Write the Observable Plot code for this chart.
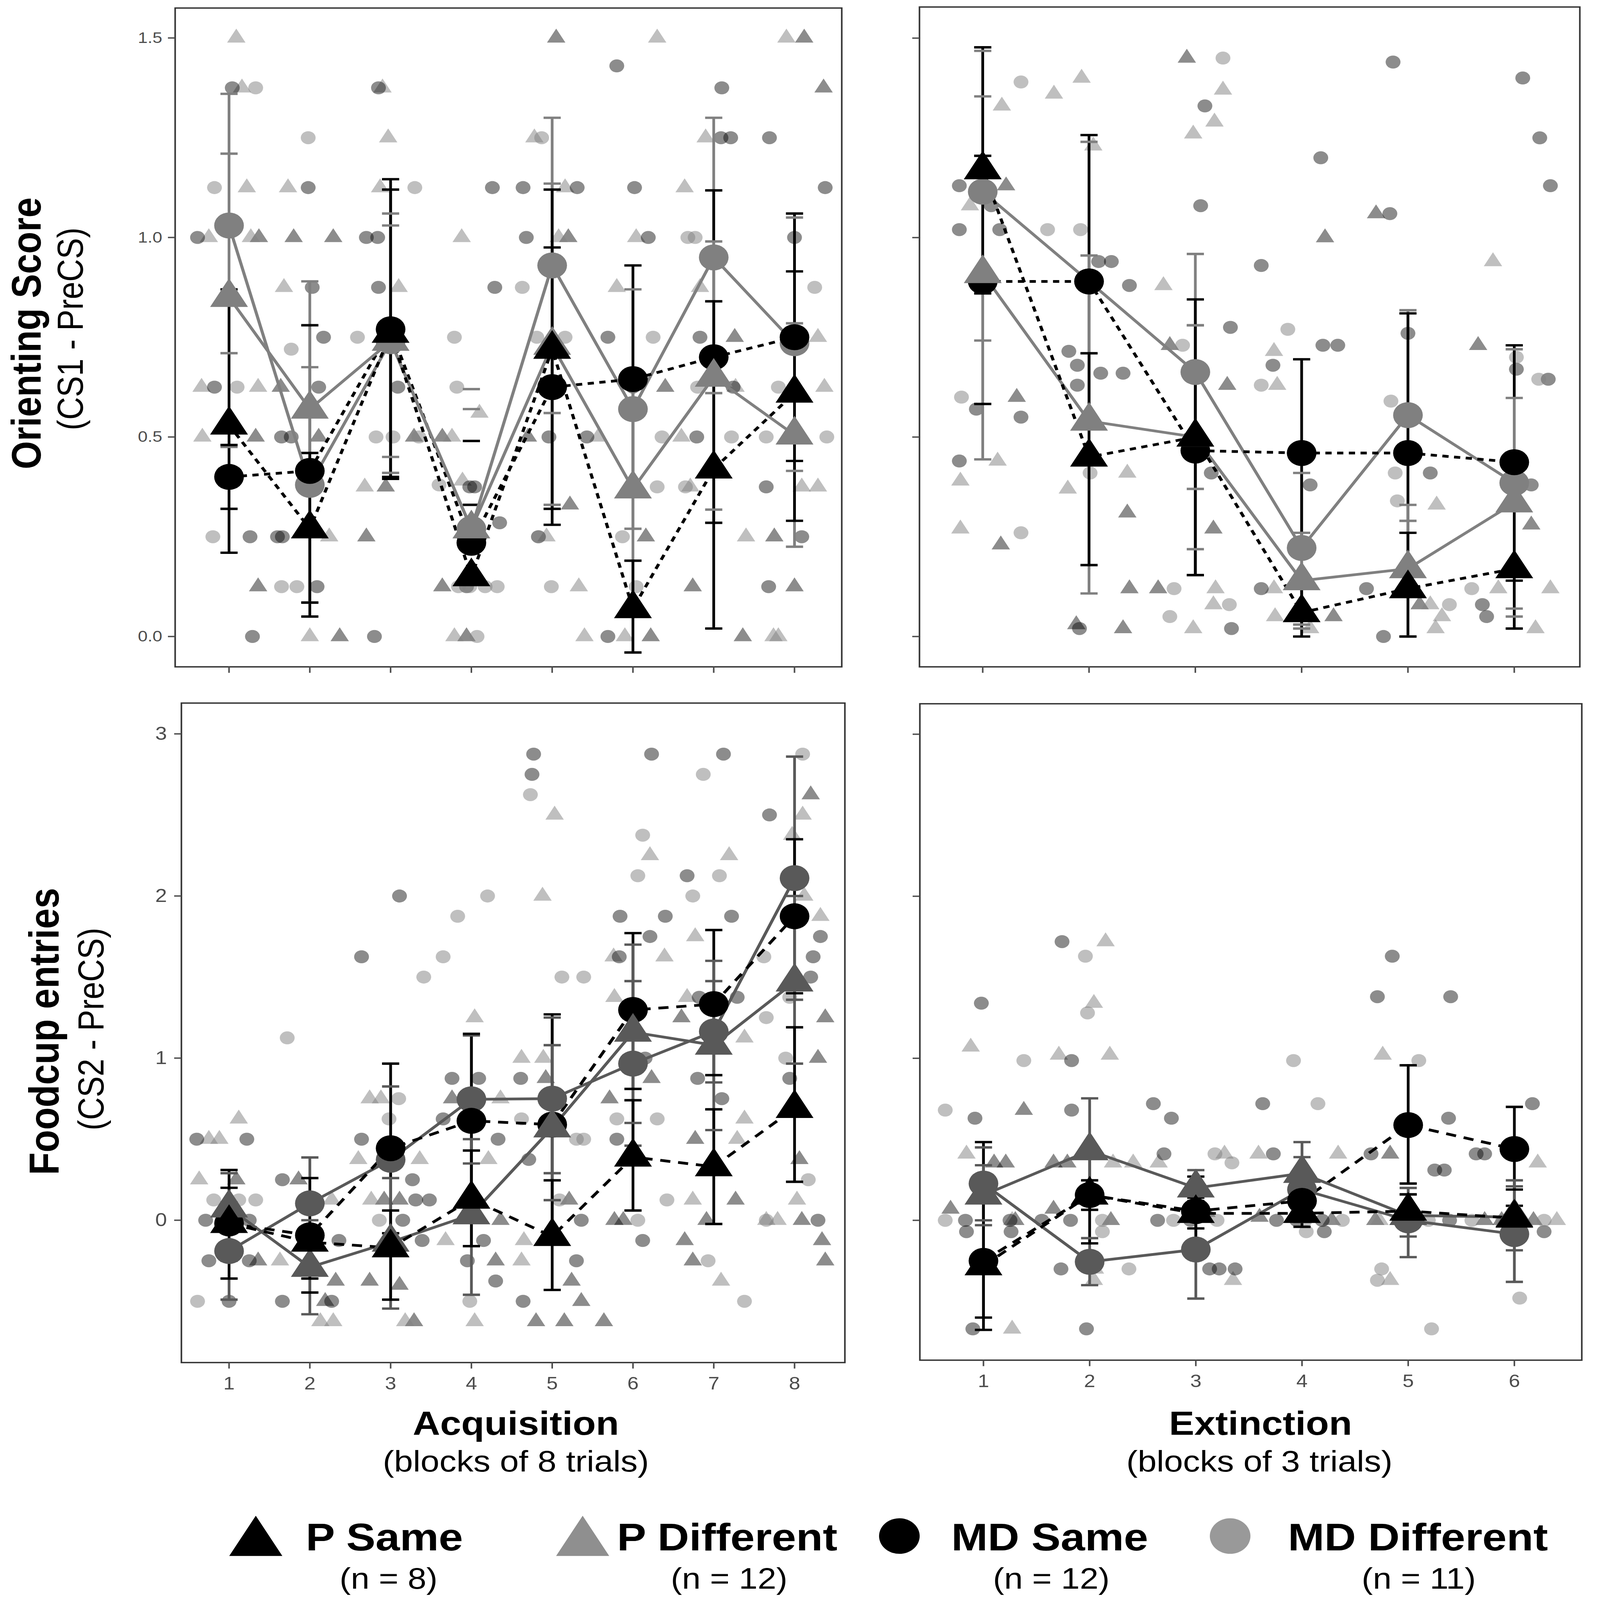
<!DOCTYPE html>
<html><head><meta charset="utf-8">
<script src="https://cdn.jsdelivr.net/npm/d3@7"></script>
<script src="https://cdn.jsdelivr.net/npm/@observablehq/plot@0.6"></script>
<style>
html,body{margin:0;padding:0;background:#fff;overflow:hidden;}
#fig{position:relative;width:4092px;height:4680px;background:#fff;overflow:hidden;font-family:"Liberation Sans",Arial,sans-serif;transform-origin:0 0;}
#fig > svg{position:absolute;overflow:visible;}
</style></head><body><div id="fig"></div>
<script>
// ---------- categories / labels ----------
const groups = ["P Same","P Different","MD Same","MD Different"];
const groupN = ["(n = 8)","(n = 12)","(n = 12)","(n = 11)"];
const acqBlocks = [1,2,3,4,5,6,7,8];
const extBlocks = [1,2,3,4,5,6];
const orientTicks = [0,0.5,1,1.5];
const foodTicks = [0,1,2,3];

// ---------- Orienting score, Acquisition (means, lower, upper) ----------
const oaMeanPSame = [0.53,0.27,0.76,0.15,0.72,0.07,0.42,0.61];
const oaLoPSame   = [0.21,0.085,0.40,0.15,0.32,-0.04,0.02,0.29];
const oaHiPSame   = [0.87,0.46,1.12,0.33,1.12,0.19,0.84,0.915];
const oaMeanPDiff = [0.85,0.57,0.74,0.27,0.73,0.37,0.65,0.505];
const oaLoPDiff   = [0.475,0.25,0.41,0.27,0.33,0.08,0.318,0.225];
const oaHiPDiff   = [1.21,0.89,1.06,0.57,1.135,0.66,0.99,0.785];
const oaMeanMDSame = [0.40,0.415,0.77,0.235,0.625,0.645,0.70,0.75];
const oaLoMDSame   = [0.32,0.05,0.395,0.235,0.28,0.36,0.285,0.44];
const oaHiMDSame   = [0.48,0.78,1.146,0.49,0.975,0.93,1.118,1.06];
const oaMeanMDDiff = [1.03,0.38,0.74,0.27,0.93,0.57,0.95,0.735];
const oaLoMDDiff   = [0.71,0.085,0.45,0.27,0.56,0.27,0.61,0.415];
const oaHiMDDiff   = [1.36,0.675,1.03,0.62,1.30,0.87,1.30,1.05];
const oaNoStem = [4];

// ---------- Orienting score, Extinction ----------
const oeMeanPSame = [1.17,0.45,0.50,0.06,0.12,0.17];
const oeLoPSame   = [0.86,0.179,0.154,0.0,0.0,0.02];
const oeHiPSame   = [1.477,0.71,0.845,0.12,0.26,0.33];
const oeMeanPDiff = [0.91,0.54,0.50,0.14,0.17,0.335];
const oeLoPDiff   = [0.444,0.108,0.219,0.02,0.0,0.07];
const oeHiPDiff   = [1.354,0.955,0.78,0.26,0.33,0.598];
const oeMeanMDSame = [0.89,0.89,0.466,0.46,0.46,0.437];
const oeLoMDSame   = [0.583,0.53,0.154,0.225,0.11,0.14];
const oeHiMDSame   = [1.205,1.257,0.78,0.695,0.81,0.73];
const oeMeanMDDiff = [1.115,0.89,0.663,0.222,0.555,0.385];
const oeLoMDDiff   = [0.742,0.54,0.37,0.03,0.29,0.05];
const oeHiMDDiff   = [1.468,1.24,0.959,0.41,0.818,0.72];

// ---------- Foodcup entries, Acquisition ----------
const faMeanPSame = [-0.02,-0.135,-0.17,0.13,-0.10,0.39,0.33,0.69];
const faLoPSame   = [-0.36,-0.36,-0.49,-0.16,-0.43,0.06,-0.023,0.237];
const faHiPSame   = [0.31,0.09,0.06,0.43,0.246,0.74,0.684,1.19];
const faMeanPDiff = [0.076,-0.29,-0.135,0.034,0.57,1.16,1.08,1.47];
const faLoPDiff   = [-0.14,-0.58,-0.545,-0.46,0.124,0.6,0.556,0.966];
const faHiPDiff   = [0.29,0.0,0.26,0.5,1.08,1.70,1.6,2.0];
const faMeanMDSame = [-0.02,-0.093,0.444,0.613,0.59,1.297,1.333,1.875];
const faLoMDSame   = [-0.25,-0.446,-0.08,0.08,-0.09,0.81,0.895,1.4];
const faHiMDSame   = [0.2,0.26,0.966,1.15,1.27,1.771,1.79,2.35];
const faMeanMDDiff = [-0.19,0.104,0.373,0.746,0.75,0.966,1.164,2.11];
const faLoMDDiff   = [-0.49,-0.18,-0.08,0.35,0.29,0.46,0.85,1.36];
const faHiMDDiff   = [0.11,0.387,0.825,1.14,1.25,1.475,1.475,2.86];

// ---------- Foodcup entries, Extinction ----------
const feMeanPSame = [-0.28,0.156,0.043,0.043,0.057,0.014];
const feLoPSame   = [-0.676,0.065,-0.05,-0.04,-0.05,-0.06];
const feHiPSame   = [0.12,0.247,0.14,0.13,0.16,0.09];
const feMeanPDiff = [0.156,0.43,0.20,0.29,0.03,0.02];
const feLoPDiff   = [-0.03,0.11,0.09,0.1,-0.1,-0.185];
const feHiPDiff   = [0.34,0.753,0.31,0.483,0.16,0.247];
const feMeanMDSame = [-0.25,0.156,0.057,0.12,0.588,0.44];
const feLoMDSame   = [-0.60,-0.142,-0.16,0.0,0.227,0.19];
const feHiMDSame   = [0.483,0.45,0.27,0.24,0.957,0.70];
const feMeanMDDiff = [0.227,-0.256,-0.18,0.19,0.0,-0.085];
const feLoMDDiff   = [0.0,-0.40,-0.483,-0.01,-0.227,-0.38];
const feHiMDDiff   = [0.45,-0.11,0.12,0.39,0.2,0.21];

// ---------- individual animals [jittered block, value] ----------
const oaDarkTri = [[5.05,1.5],[8.12,1.5],[8.36,1.375],[1.37,1.0],[1.8,1.0],[2.29,1.0],[5.2,1.0],[7.26,0.75],[1.64,0.625],[6.4,0.625],[1.33,0.5],[2.11,0.5],[3.29,0.5],[3.64,0.5],[4.7,0.5],[2.94,0.375],[5.22,0.33],[2.7,0.25],[6.16,0.25],[7.75,0.25],[1.36,0.125],[3.64,0.125],[6.74,0.125],[8.0,0.125],[2.37,0],[3.94,0],[6.22,0],[7.36,0]];
const oaLightTri = [[1.09,1.5],[6.3,1.5],[7.9,1.5],[1.16,1.375],[2.9,1.375],[2.97,1.25],[4.78,1.25],[6.9,1.25],[1.22,1.125],[1.73,1.125],[2.87,1.125],[5.16,1.125],[6.64,1.125],[0.75,1.0],[1.27,1.0],[3.88,1.0],[5.08,1.0],[6.04,1.0],[1.68,0.875],[3.1,0.875],[5.8,0.875],[6.83,0.875],[8.29,0.75],[0.66,0.625],[1.36,0.625],[7.27,0.625],[8.37,0.625],[4.1,0.56],[0.67,0.5],[3.76,0.5],[5.57,0.5],[6.6,0.5],[2.68,0.375],[3.89,0.39],[6.71,0.375],[8.09,0.375],[8.29,0.375],[2.24,0.25],[4.93,0.25],[7.4,0.25],[5.33,0.125],[2.0,0],[3.79,0],[5.4,0],[5.9,0],[7.74,0],[7.8,0]];
const oaDarkCirc = [[5.8,1.43],[1.04,1.375],[2.85,1.375],[7.1,1.375],[7.09,1.25],[7.21,1.25],[7.69,1.25],[1.98,1.125],[4.26,1.125],[4.64,1.125],[5.31,1.125],[6.02,1.125],[8.38,1.125],[0.61,1.0],[2.7,1.0],[2.84,1.0],[4.68,1.0],[6.19,1.0],[8.0,1.0],[2.03,0.875],[2.85,0.875],[4.29,0.875],[2.17,0.75],[5.69,0.75],[6.83,0.75],[0.82,0.625],[2.11,0.625],[3.09,0.625],[6.0,0.625],[7.24,0.625],[1.65,0.5],[1.77,0.5],[4.96,0.5],[5.43,0.5],[6.79,0.5],[3.98,0.375],[4.04,0.375],[7.65,0.375],[4.35,0.285],[1.26,0.25],[1.6,0.25],[1.66,0.25],[4.83,0.25],[8.09,0.25],[2.09,0.125],[3.94,0.125],[7.68,0.125],[1.29,0],[2.8,0],[5.69,0]];
const oaLightCirc = [[1.33,1.375],[1.98,1.25],[4.87,1.25],[0.82,1.125],[3.3,1.125],[6.68,1.0],[6.77,1.0],[4.63,0.875],[8.25,0.875],[2.59,0.75],[3.79,0.75],[4.81,0.75],[5.16,0.75],[6.25,0.75],[1.77,0.72],[1.1,0.625],[3.82,0.625],[6.8,0.625],[7.8,0.625],[2.82,0.5],[3.03,0.5],[3.35,0.5],[6.36,0.5],[7.22,0.5],[7.65,0.5],[8.4,0.5],[3.6,0.38],[6.3,0.375],[6.65,0.375],[0.8,0.25],[4.83,0.25],[5.87,0.25],[1.65,0.125],[1.84,0.125],[3.84,0.125],[3.98,0.125],[4.17,0.125],[4.32,0.125],[4.99,0.125],[6.04,0.125],[4.07,0]];

const oeDarkTri = [[2.92,1.45],[1.22,1.13],[4.7,1.06],[4.22,1.0],[5.66,0.73],[2.76,0.73],[3.3,0.63],[1.32,0.6],[2.36,0.31],[6.16,0.28],[3.17,0.27],[1.17,0.23],[2.38,0.12],[2.65,0.12],[5.11,0.08],[4.3,0.05],[1.88,0.03],[2.32,0.02]];
const oeLightTri = [[1.93,1.4],[3.26,1.37],[1.67,1.36],[1.18,1.33],[3.18,1.29],[2.98,1.26],[2.04,1.23],[0.88,1.08],[5.8,0.94],[2.7,0.88],[3.74,0.715],[3.77,0.63],[1.14,0.44],[2.36,0.41],[0.79,0.39],[1.8,0.37],[5.27,0.33],[0.79,0.27],[3.19,0.12],[3.74,0.12],[5.85,0.12],[6.34,0.12],[3.17,0.08],[5.21,0.08],[5.32,0.05],[3.75,0.05],[2.98,0.02],[4.08,0.02],[6.2,0.02],[5.26,0.02]];
const oeDarkCirc = [[4.86,1.44],[6.08,1.4],[3.09,1.33],[6.24,1.25],[4.18,1.2],[6.34,1.13],[0.78,1.13],[3.05,1.08],[1.08,1.08],[4.83,1.06],[1.16,1.02],[0.78,1.02],[2.21,0.94],[2.09,0.94],[3.62,0.93],[2.38,0.88],[3.33,0.775],[5.0,0.76],[4.2,0.73],[4.34,0.73],[1.81,0.715],[3.73,0.68],[1.89,0.68],[6.02,0.67],[2.11,0.66],[2.32,0.66],[6.32,0.645],[1.89,0.63],[0.94,0.57],[1.36,0.55],[0.78,0.44],[5.21,0.41],[3.15,0.41],[4.08,0.38],[6.16,0.38],[3.62,0.12],[4.61,0.12],[5.7,0.08],[5.74,0.05],[1.91,0.02],[3.34,0.02],[4.77,0.0]];
const oeLightCirc = [[3.26,1.45],[1.36,1.39],[1.61,1.02],[1.92,1.02],[3.87,0.77],[2.88,0.73],[6.02,0.7],[3.62,0.63],[6.23,0.645],[0.8,0.6],[4.84,0.59],[4.88,0.41],[2.01,0.41],[6.02,0.38],[4.9,0.34],[1.36,0.26],[2.8,0.12],[5.6,0.12],[3.32,0.08],[5.39,0.08],[2.76,0.05]];

const faDarkTri = [[8.2,2.625],[6.6,1.25],[8.38,1.25],[8.29,1.0],[4.92,0.875],[6.23,0.875],[3.76,0.75],[5.71,0.75],[6.77,0.5],[8.06,0.375],[1.09,0.25],[1.86,0.25],[2.92,0.125],[3.11,0.125],[5.21,0.125],[7.27,0.125],[4.36,0],[5.77,0],[5.88,0],[6.91,0],[8.09,0],[6.64,-0.125],[8.34,-0.125],[1.36,-0.25],[4.3,-0.25],[6.74,-0.25],[8.38,-0.25],[2.32,-0.375],[2.74,-0.375],[5.24,-0.375],[3.11,-0.4],[5.36,-0.5],[2.19,-0.5],[3.29,-0.625],[4.8,-0.625],[5.15,-0.625],[5.64,-0.625]];
const faLightTri = [[5.03,2.5],[8.1,2.5],[7.97,2.375],[6.21,2.25],[7.19,2.25],[4.88,2.0],[8.12,2.0],[8.32,1.875],[6.77,1.75],[5.76,1.625],[6.39,1.625],[5.77,1.375],[6.67,1.375],[4.04,1.25],[7.38,1.125],[4.62,1.0],[4.89,1.0],[2.74,0.75],[2.88,0.75],[4.36,0.75],[1.12,0.625],[7.38,0.625],[0.75,0.5],[0.88,0.5],[7.29,0.5],[2.6,0.375],[3.36,0.375],[4.21,0.375],[0.63,0.25],[2.27,0.125],[2.76,0.125],[6.74,0.125],[8.03,0.125],[7.65,0],[7.79,0],[3.68,-0.125],[4.65,-0.125],[1.63,-0.25],[4.62,-0.25],[7.09,-0.375],[2.13,-0.625],[2.29,-0.625],[3.18,-0.625],[4.04,-0.625]];
const faDarkCirc = [[4.77,2.875],[6.23,2.875],[7.12,2.875],[4.75,2.75],[7.69,2.5],[6.67,2.125],[3.11,2.0],[5.84,1.875],[6.4,1.875],[7.22,1.875],[6.21,1.75],[8.32,1.75],[2.64,1.625],[5.83,1.625],[8.23,1.625],[8.2,1.5],[6.82,1.375],[7.29,1.375],[6.15,1.0],[3.76,0.875],[4.09,0.875],[4.61,0.875],[6.8,0.875],[7.94,0.875],[7.1,0.75],[3.65,0.625],[0.6,0.5],[1.22,0.5],[2.64,0.5],[4.33,0.5],[5.8,0.5],[4.71,0.375],[1.66,0.25],[3.27,0.25],[3.31,0.125],[3.48,0.125],[0.71,0],[1.25,0],[3.15,0],[5.36,0],[8.29,0],[2.36,-0.125],[3.39,-0.125],[4.15,-0.125],[6.12,-0.125],[0.75,-0.25],[1.25,-0.25],[3.95,-0.25],[5.3,-0.25],[4.3,-0.375],[1.0,-0.5],[1.66,-0.5],[2.27,-0.5],[4.64,-0.5]];
const faLightCirc = [[8.1,2.875],[6.87,2.75],[4.73,2.625],[6.12,2.375],[6.06,2.125],[7.07,2.125],[4.2,2.0],[6.74,2.0],[3.83,1.875],[3.65,1.625],[7.62,1.625],[3.41,1.5],[5.12,1.5],[5.39,1.5],[7.94,1.375],[7.65,1.25],[1.72,1.125],[7.89,1.0],[3.1,0.75],[2.98,0.625],[4.62,0.625],[5.8,0.625],[6.3,0.625],[5.3,0.5],[5.39,0.5],[8.17,0.25],[0.81,0.125],[1.12,0.125],[1.33,0.125],[5.09,0.125],[6.42,0.125],[2.86,0],[6.06,0],[7.65,0],[6.93,-0.25],[0.61,-0.5],[3.98,-0.5],[7.38,-0.5]];

const feDarkTri = [[1.38,0.68],[4.83,0.41],[1.1,0.355],[1.21,0.355],[1.66,0.355],[1.79,0.355],[0.69,0.07],[1.66,0.07],[1.3,0.0],[2.2,0.0],[3.1,0.05],[3.6,0.02],[4.28,0.0],[4.69,0.0],[5.72,0.0],[5.88,0.0],[6.18,0.0]];
const feLightTri = [[2.15,1.72],[2.04,1.34],[0.88,1.07],[1.71,1.02],[2.19,1.02],[4.76,1.02],[0.84,0.41],[3.27,0.41],[3.59,0.41],[4.34,0.41],[2.22,0.355],[2.41,0.355],[2.65,0.355],[6.22,0.355],[1.27,0.0],[4.73,0.0],[6.4,0.0],[2.05,-0.3],[2.04,-0.37],[3.35,-0.37],[4.83,-0.37],[1.27,-0.67]];
const feDarkCirc = [[1.74,1.72],[4.85,1.63],[4.71,1.38],[5.4,1.38],[0.98,1.34],[1.83,0.986],[2.6,0.72],[3.63,0.72],[6.17,0.72],[1.83,0.68],[0.92,0.63],[2.77,0.63],[5.38,0.63],[2.7,0.41],[3.73,0.41],[4.65,0.41],[5.64,0.41],[5.72,0.41],[5.25,0.31],[5.34,0.31],[0.83,0.0],[1.25,0.0],[1.55,0.0],[1.82,0.0],[2.64,0.0],[2.95,0.0],[3.76,0.0],[3.95,0.0],[4.19,0.0],[5.39,0.0],[0.84,-0.07],[1.26,-0.07],[4.21,-0.07],[6.28,-0.07],[1.73,-0.3],[3.13,-0.3],[3.22,-0.3],[3.37,-0.3],[0.9,-0.67],[1.97,-0.67]];
const feLightCirc = [[1.96,1.63],[1.98,1.28],[1.38,0.986],[3.92,0.986],[5.1,0.986],[4.15,0.72],[0.64,0.68],[3.18,0.41],[3.34,0.355],[0.64,0.0],[2.12,0.0],[2.79,0.0],[3.2,0.0],[4.03,0.0],[4.38,0.0],[5.19,0.0],[5.6,0.0],[5.89,0.0],[6.28,0.0],[2.12,-0.07],[4.04,-0.07],[2.37,-0.3],[4.75,-0.3],[4.71,-0.37],[6.05,-0.48],[5.22,-0.67]];

// ---------- helpers ----------
const FONT = "'Liberation Sans', Arial, Helvetica, sans-serif";
function buildTable(blocks, series) {
  const rows = [];
  groups.forEach(g => blocks.forEach((b, i) => rows.push({
    group: g, block: b, mean: series[g][0][i], lo: series[g][1][i], hi: series[g][2][i]
  })));
  return rows;
}
const capSymbol = {draw(ctx, size) { const w = Math.sqrt(size / Math.PI); ctx.moveTo(-w, 0); ctx.lineTo(w, 0); }};
const isSame = g => g.endsWith("Same");
const isTri = g => g.startsWith("P ");

function panel(p) {
  const fig = document.getElementById("fig");
  const mL = 160, mR = 30, mT = 30, mB = 130;
  const W = p.fx1 - p.fx0, H = p.fy1 - p.fy0;
  const rows = buildTable(p.blocks, p.series);
  const col = g => isSame(g) ? "#000000" : p.diffColor;
  const ptStyle = [
    [p.pts.darkTri, "triangle", 17.5, "#000000", 0.45],
    [p.pts.lightTri, "triangle", 17.5, "#808080", 0.5],
    [p.pts.darkCirc, "circle", 19, "#000000", 0.45],
    [p.pts.lightCirc, "circle", 19, "#808080", 0.5]
  ];
  const drawOrder = ["MD Different","MD Same","P Different","P Same"];
  const marks = [
    ...ptStyle.map(([data, sym, r, fill, op]) =>
      Plot.dot(data, {x: d => d[0], y: d => d[1], symbol: sym, r, fill, fillOpacity: op, stroke: "none"})),
    ...drawOrder.map(g => Plot.ruleX(rows.filter(d => d.group === g && !(p.noStem || []).includes(d.block)),
      {x: "block", y1: "lo", y2: "hi", stroke: col(g), strokeWidth: 7})),
    ...drawOrder.map(g => Plot.dot(rows.filter(d => d.group === g),
      {x: "block", y: "lo", symbol: capSymbol, r: 22, fill: "none", stroke: col(g), strokeWidth: 7})),
    ...drawOrder.map(g => Plot.dot(rows.filter(d => d.group === g),
      {x: "block", y: "hi", symbol: capSymbol, r: 22, fill: "none", stroke: col(g), strokeWidth: 7})),
    ...drawOrder.map(g => Plot.line(rows.filter(d => d.group === g),
      {x: "block", y: "mean", stroke: col(g), strokeWidth: 8,
       strokeDasharray: isSame(g) ? p.dash : null, strokeLinecap: "butt"})),
    ...drawOrder.map(g => Plot.dot(rows.filter(d => d.group === g),
      {x: "block", y: "mean", symbol: isTri(g) ? "triangle" : "circle", r: isTri(g) ? 36 : 38,
       fill: col(g), stroke: "none"})),
    Plot.frame({stroke: "#333333", strokeWidth: 4}),
    Plot.axisY({ticks: p.yTicks, tickSize: 18, tickPadding: p.yPad, fontSize: p.yFont,
      tickFormat: p.yFmt, color: "#4d4d4d", strokeWidth: 4, label: null}),
    Plot.axisX({ticks: p.blocks, tickSize: 18, tickPadding: 24, fontSize: 52,
      tickFormat: p.xFmt, color: "#4d4d4d", strokeWidth: 4, label: null})
  ];
  const chart = Plot.plot({
    width: W + mL + mR, height: H + mT + mB,
    marginLeft: mL, marginRight: mR, marginTop: mT, marginBottom: mB,
    x: {domain: p.xDomain},
    y: {domain: p.yDomain},
    style: {fontFamily: FONT, background: "transparent", overflow: "visible"},
    marks
  });
  chart.style.left = (p.fx0 - mL) + "px";
  chart.style.top = (p.fy0 - mT) + "px";
  fig.appendChild(chart);
}

const none = () => "";
const diffTop = "#808080", diffBottom = "#595959";

panel({fx0: 448, fx1: 2155, fy0: 23, fy1: 1950, xDomain: [0.333, 8.585], yDomain: [-0.076, 1.575],
  blocks: acqBlocks, yTicks: orientTicks, yFmt: d3.format(".1f"), yPad: 15, yFont: 45, xFmt: none,
  diffColor: diffTop, dash: "16,14", noStem: oaNoStem,
  series: {"P Same": [oaMeanPSame, oaLoPSame, oaHiPSame], "P Different": [oaMeanPDiff, oaLoPDiff, oaHiPDiff],
           "MD Same": [oaMeanMDSame, oaLoMDSame, oaHiMDSame], "MD Different": [oaMeanMDDiff, oaLoMDDiff, oaHiMDDiff]},
  pts: {darkTri: oaDarkTri, lightTri: oaLightTri, darkCirc: oaDarkCirc, lightCirc: oaLightCirc}});

panel({fx0: 2354, fx1: 4045, fy0: 20, fy1: 1950, xDomain: [0.405, 6.617], yDomain: [-0.076, 1.578],
  blocks: extBlocks, yTicks: orientTicks, yFmt: none, yPad: 15, yFont: 45, xFmt: none,
  diffColor: diffTop, dash: "16,14",
  series: {"P Same": [oeMeanPSame, oeLoPSame, oeHiPSame], "P Different": [oeMeanPDiff, oeLoPDiff, oeHiPDiff],
           "MD Same": [oeMeanMDSame, oeLoMDSame, oeHiMDSame], "MD Different": [oeMeanMDDiff, oeLoMDDiff, oeHiMDDiff]},
  pts: {darkTri: oeDarkTri, lightTri: oeLightTri, darkCirc: oeDarkCirc, lightCirc: oeLightCirc}});

panel({fx0: 464, fx1: 2163, fy0: 2056, fy1: 3985, xDomain: [0.41, 8.623], yDomain: [-0.878, 3.19],
  blocks: acqBlocks, yTicks: foodTicks, yFmt: d3.format("d"), yPad: 19, yFont: 54, xFmt: d3.format("d"),
  diffColor: diffBottom, dash: "26,20",
  series: {"P Same": [faMeanPSame, faLoPSame, faHiPSame], "P Different": [faMeanPDiff, faLoPDiff, faHiPDiff],
           "MD Same": [faMeanMDSame, faLoMDSame, faHiMDSame], "MD Different": [faMeanMDDiff, faLoMDDiff, faHiMDDiff]},
  pts: {darkTri: faDarkTri, lightTri: faLightTri, darkCirc: faDarkCirc, lightCirc: faLightCirc}});

panel({fx0: 2355, fx1: 4050, fy0: 2058, fy1: 3978, xDomain: [0.401, 6.635], yDomain: [-0.863, 3.188],
  blocks: extBlocks, yTicks: foodTicks, yFmt: none, yPad: 19, yFont: 54, xFmt: d3.format("d"),
  diffColor: diffBottom, dash: "26,20",
  series: {"P Same": [feMeanPSame, feLoPSame, feHiPSame], "P Different": [feMeanPDiff, feLoPDiff, feHiPDiff],
           "MD Same": [feMeanMDSame, feLoMDSame, feHiMDSame], "MD Different": [feMeanMDDiff, feLoMDDiff, feHiMDDiff]},
  pts: {darkTri: feDarkTri, lightTri: feLightTri, darkCirc: feDarkCirc, lightCirc: feLightCirc}});

// ---------- titles & legend (text overlay) ----------
const ov = d3.select("#fig").append("svg").attr("width", 4092).attr("height", 4680)
  .style("left", "0px").style("top", "0px").style("font-family", FONT);
function txt(x, y, s, size, weight, rot) {
  const t = ov.append("text").attr("x", x).attr("y", y).attr("text-anchor", "middle")
    .attr("font-size", size).attr("font-weight", weight).attr("fill", "#000").text(s);
  if (rot) t.attr("transform", `rotate(-90,${x},${y})`);
  return t;
}
txt(104, 975, "Orienting Score", 106, "bold", true);
txt(212, 962, "(CS1 - PreCS)", 92, "normal", true);
txt(150, 3017, "Foodcup entries", 108, "bold", true);
txt(265, 3010, "(CS2 - PreCS)", 92, "normal", true);
txt(1321, 4197, "Acquisition", 97, "bold", false);
txt(1321, 4304, "(blocks of 8 trials)", 87, "normal", false);
txt(3228, 4197, "Extinction", 97, "bold", false);
txt(3225, 4304, "(blocks of 3 trials)", 87, "normal", false);

const legSymX = [655, 1492, 2303, 3150];
const legTextX = [783, 1580, 2436, 3298];
const legNX = [995, 1867, 2692, 3633];
const legFill = ["#000000", "#8f8f8f", "#000000", "#999999"];
groups.forEach((g, i) => {
  const tri = isTri(g);
  const r = tri ? 50.5 : 52;
  ov.append("path")
    .attr("d", d3.symbol(tri ? d3.symbolTriangle : d3.symbolCircle, Math.PI * r * r)())
    .attr("transform", `translate(${legSymX[i]},${tri ? 4512 : 4493})`)
    .attr("fill", legFill[i]);
  ov.append("text").attr("x", legTextX[i]).attr("y", 4535).attr("font-size", 112)
    .attr("font-weight", "bold").attr("fill", "#000").text(g);
  txt(legNX[i], 4647, groupN[i], 86, "normal", false);
});

// fit the 4092x4680 figure into the actual window if the window is smaller
(function fit() {
  const fig = document.getElementById("fig");
  const sx = Math.min(1, window.innerWidth / 4092);
  const sy = Math.min(1, window.innerHeight / 4680);
  if (sx < 0.999 || sy < 0.999) fig.style.transform = `scale(${sx},${sy})`;
})();
</script></body></html>
